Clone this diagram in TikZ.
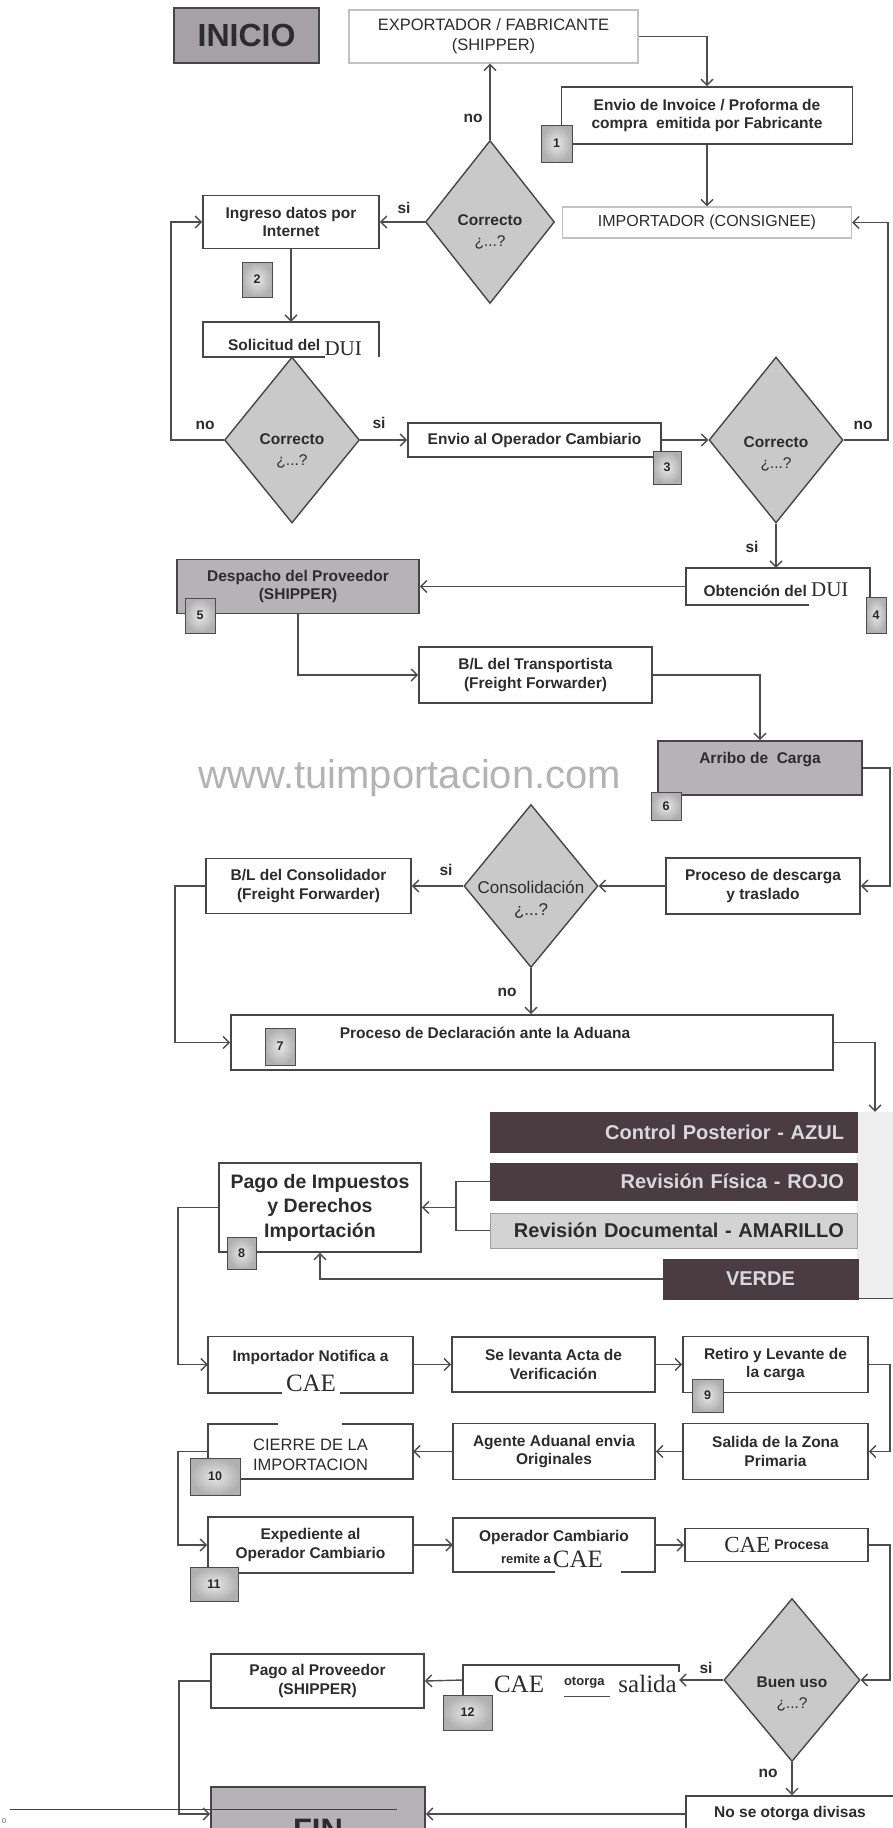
\documentclass[tikz,border=0pt]{standalone}
\usepackage{fontspec}
\setmainfont{Liberation Sans}
\newfontfamily\caef{Liberation Serif}
\usetikzlibrary{arrows.meta,shapes.geometric,calc}
\definecolor{lnc}{HTML}{4D4D4D}
\definecolor{bxc}{HTML}{464646}
\definecolor{txc}{HTML}{2C2C2C}
\definecolor{gboxc}{HTML}{B5B3B5}
\definecolor{inic}{HTML}{A5A1A5}
\definecolor{dmc}{HTML}{C9C9C9}
\definecolor{barc}{HTML}{4A3C41}
\definecolor{bartx}{HTML}{DAD8DA}
\definecolor{amac}{HTML}{D3D3D3}
\definecolor{wmc}{HTML}{B3B3B3}
\definecolor{lbc}{HTML}{C2C2C2}
\definecolor{semc}{HTML}{EEEEEE}
\tikzset{
  ln/.style={draw=lnc, line width=1.4pt},
  arr/.style={draw=lnc, line width=1.4pt, -{Straight Barb[length=6pt,width=12pt]}},
  sz/.style 2 args={minimum width=#1pt, minimum height=#2pt},
  fb/.style={font=\bfseries\fontsize{15.5}{18.5}\selectfont},
  bx/.style={draw=bxc, line width=1.6pt, fill=white, inner sep=1pt, align=center, text=txc, fb},
  gbx/.style={bx, fill=gboxc},
  lbx/.style={draw=lbc, line width=1.3pt, fill=white, inner sep=1pt, align=center, text=txc, font=\fontsize{16.5}{20}\selectfont},
  nb/.style={inner sep=0, fill=white},
  bd/.style={draw=bxc, line width=1.6pt},
  txt/.style={inner sep=0, align=center, text=txc, fb},
  dm/.style={diamond, draw=bxc, line width=1.4pt, fill=dmc, inner sep=0},
  dt/.style={inner sep=0, align=center, text=txc, font=\bfseries\fontsize{15.5}{21}\selectfont},
  lab/.style={inner sep=0, text=txc, font=\bfseries\fontsize{15.5}{15.5}\selectfont},
  badge/.style={draw=black!70, line width=1pt, inner color=gray!18, outer color=gray!62, inner sep=0, text=black!85, font=\bfseries\fontsize{12.5}{12.5}\selectfont},
  bar/.style={fill=barc, draw=barc, line width=0.8pt, inner ysep=0, inner xsep=13pt, text width=341pt, align=right, text=bartx, font=\bfseries\fontsize{20}{20}\selectfont},
  cae/.style={font=\caef\fontsize{25}{25}\selectfont},
}
\begin{document}
\begin{tikzpicture}[x=1pt,y=-1pt]
\useasboundingbox (0,0) rectangle (893,1828);
\clip (0,0) rectangle (893,1828);
\fill[white] (0,0) rectangle (893,1828);

% watermark
\node[font=\fontsize{40}{40}\selectfont, text=wmc, anchor=base, inner sep=0] (wm) at (410,788) {www.tuimportacion.com};

% ---------- top part
\node[gbx, fill=inic, sz={145}{55}, font=\bfseries\fontsize{32}{32}\selectfont] (inicio) at (246.5,35.5) {INICIO};
\node[lbx, sz={289}{53}] (exp) at (493.5,36.5) {EXPORTADOR / FABRICANTE\\(SHIPPER)};
\node[bx, sz={291}{57}] (env) at (707,115.5) {Envio de Invoice / Proforma de\\compra~ emitida por Fabricante};
\node[lbx, sz={289}{31}, font=\fontsize{16}{19}\selectfont] (imp) at (707,222.5) {IMPORTADOR (CONSIGNEE)};
\node[dm, sz={129}{163}] (d1) at (490,222) {};
\node[dt] (d1t) at (490,232) {Correcto\\{\mdseries ¿...?}};
\node[bx, sz={176}{53}] (ing) at (291,222) {Ingreso datos por\\Internet};
\node[nb, sz={176}{35}] (sol) at (291,339.5) {};
\draw[bd] (325,0 |- sol.south) -- (sol.south west) -- (sol.north west) -- (sol.north east) -- (sol.south east);
\node[txt, anchor=base] (solt) at (295,350) {Solicitud del \raisebox{-5pt}{\caef\mdseries\fontsize{21}{21}\selectfont DUI}};
\node[dm, sz={135}{166}] (d2) at (292,440) {};
\node[dt] (d2t) at (292,451) {Correcto\\{\mdseries ¿...?}};
\node[bx, sz={253}{34}] (op) at (534.5,440) {Envio al Operador Cambiario};
\node[dm, sz={134}{166}] (d3) at (776,440) {};
\node[dt] (d3t) at (776,454) {Correcto\\{\mdseries ¿...?}};
\node[nb, sz={184}{37}] (obt) at (778,586.5) {};
\draw[bd] (809,0 |- obt.south) -- (obt.south west) -- (obt.north west) -- (obt.north east) -- ++(0,29);
\node[txt, anchor=base] (obtt) at (776,596) {Obtención del {\caef\mdseries\fontsize{21}{21}\selectfont DUI}};
\node[gbx, sz={242}{54}] (desp) at (298,586.5) {Despacho del Proveedor\\(SHIPPER)};
\node[bx, sz={233}{56}] (bl1) at (535.5,675) {B/L del Transportista\\(Freight Forwarder)};
\node[gbx, sz={204}{54}] (arribo) at (760,768) {};
\node[txt] (arribot) at (760,760) {Arribo de~ Carga};
\node[bx, sz={194}{56}] (desc) at (763,886) {Proceso de descarga\\y traslado};
\node[dm, sz={134}{163}] (d4) at (531,886) {};
\node[dt, font=\fontsize{17}{22}\selectfont] (d4t) at (531,900) {Consolidación\\¿...?};
\node[bx, sz={205}{55}] (bl2) at (308.5,886) {B/L del Consolidador\\(Freight Forwarder)};
\node[bx, sz={602}{55}] (decl) at (532,1042.5) {};
\node[txt] (declt) at (485,1033) {Proceso de Declaración ante la Aduana};

% ---------- channels
\node[fill=semc, sz={36}{186}, inner sep=0] (semf) at (875,1205) {};
\draw[ln] (semf.south west) -- (semf.south east);
\node[bar, minimum height=40pt] (azul) at (673.5,1132) {Control Posterior - AZUL};
\node[bar, minimum height=37pt] (rojo) at (673.5,1181.5) {Revisión Física - ROJO};
\node[bar, fill=amac, draw=gray!75, text=txc, minimum height=35pt] (amar) at (673.5,1230.5) {Revisión Documental - AMARILLO};
\node[fill=barc, draw=barc, sz={195}{40}, inner sep=0, text=bartx, font=\bfseries\fontsize{20}{20}\selectfont] (verde) at (760.5,1279) {VERDE};
\node[bx, sz={202}{89}, font=\bfseries\fontsize{19.5}{24.5}\selectfont] (pago) at (320,1207.5) {Pago de Impuestos\\y Derechos\\Importación};
\coordinate (brk) at (456,1207.5);

% ---------- rows
\node[nb, sz={205}{56}] (notif) at (310.5,1364.5) {};
\draw[bd] (282,0 |- notif.south) -- (notif.south west) -- (notif.north west) -- (notif.north east) -- (notif.south east) -- (340,0 |- notif.south);
\node[txt] (notift) at (310.5,1357) {Importador Notifica a};
\node[cae, anchor=base, inner sep=0, text=txc] (notifc) at (311,1391) {CAE};
\node[bx, sz={203}{55}] (acta) at (553.5,1364.5) {Se levanta Acta de\\Verificación};
\node[bx, sz={185}{56}] (ret) at (775.5,1364.5) {Retiro y Levante de\\la carga};
\node[bx, sz={185}{56}] (sal) at (775.5,1451.5) {Salida de la Zona\\Primaria};
\node[bx, sz={202}{56}] (agen) at (554,1451.5) {Agente Aduanal envia\\Originales};
\node[nb, sz={205}{55}] (cierre) at (310.5,1451.5) {};
\draw[bd] (278,0 |- cierre.north) -- (cierre.north west) -- (cierre.south west) -- (cierre.south east) -- (cierre.north east) -- (342,0 |- cierre.north);
\node[txt, font=\fontsize{16.5}{20}\selectfont] (cierret) at (310.5,1455) {CIERRE DE LA\\IMPORTACION};
\node[bx, sz={205}{56}] (exped) at (310.5,1545) {Expediente al\\Operador Cambiario};
\node[nb, sz={202}{54}] (opcam) at (554,1545) {};
\draw[bd] (555,0 |- opcam.south) -- (opcam.south west) -- (opcam.north west) -- (opcam.north east) -- (opcam.south east) -- (621,0 |- opcam.south);
\node[txt] (opcamt) at (554,1537) {Operador Cambiario};
\node[txt, anchor=base] (opcamc) at (552,1567) {\raisebox{4pt}{\fontsize{13}{13}\selectfont remite a}\hspace{2pt}{\caef\mdseries\fontsize{25}{25}\selectfont CAE}};
\node[bx, sz={183}{33}] (caeproc) at (776.5,1545) {{\caef\mdseries\fontsize{23}{23}\selectfont CAE}\hspace{4pt}\raisebox{3pt}{\fontsize{14}{14}\selectfont Procesa}};

% ---------- bottom
\node[dm, sz={136}{163}] (d5) at (792,1680) {};
\node[dt] (d5t) at (792,1694) {Buen uso\\{\mdseries ¿...?}};
\node[inner sep=0, sz={216}{30}] (otg) at (571,1680) {};
\draw[bd] (otg.south west) -- (otg.north west) -- (otg.north east) -- ++(0,7);
\node[inner sep=0, anchor=base east, text=txc] (otgt) at (677,1692) {{\caef\fontsize{25}{25}\selectfont CAE}\hspace{20pt}\rlap{\color{lnc}\rule[-5pt]{46pt}{1.3pt}}\raisebox{7pt}{\bfseries\fontsize{13}{13}\selectfont otorga}\hspace{14pt}{\caef\fontsize{25}{25}\selectfont salida}};
\node[bx, sz={213}{54}] (ppago) at (317.5,1681) {Pago al Proveedor\\(SHIPPER)};
\node[gbx, sz={214}{54}] (fin) at (318,1814) {};
\node[inner sep=0, anchor=base, text=txc, font=\bfseries\fontsize{31}{31}\selectfont] (fint) at (318,1840) {FIN};
\node[bx, sz={208}{36}] (noseot) at (790,1814) {No se otorga divisas};

% ---------- connectors
\draw[arr] (exp.east) -| (env.north);
\draw[arr] (env.south) -- (imp.north);
\draw[arr] (d1.north) -- (d1.north |- exp.south);
\draw[arr] (d1.west) -- (ing.east);
\draw[arr] (ing.south) -- (sol.north);
\draw[arr] (d2.west) -- (171,0 |- d2.west) |- (ing.west);
\draw[arr] (d2.east) -- (op.west);
\draw[arr] (op.east) -- (d3.west);
\draw[arr] (d3.east) -- (888,0 |- d3.east) |- (imp.east);
\draw[arr] (d3.south) -- (d3.south |- obt.north);
\draw[arr] (obt.west) -- (desp.east);
\draw[arr] (desp.south) |- (bl1.west);
\draw[arr] (bl1.east) -| (arribo.north);
\draw[arr] (arribo.east) -- (890,0 |- arribo.east) |- (desc.east);
\draw[arr] (desc.west) -- (d4.east);
\draw[arr] (d4.west) -- (bl2.east);
\draw[arr] (d4.south) -- (d4.south |- decl.north);
\draw[arr] (bl2.west) -- (175,0 |- bl2.west) |- (decl.west);
\draw[arr] (decl.east) -| (semf.north);
\draw[ln] (rojo.west) -| (brk) |- (amar.west);
\draw[arr] (brk) -- (pago.east);
\draw[arr] (verde.west) -| (pago.south);
\draw[arr] (pago.west) -- (178,0 |- pago.west) |- (notif.west);
\draw[arr] (notif.east) -- (acta.west);
\draw[arr] (acta.east) -- (ret.west);
\draw[arr] (ret.east) -- (890,0 |- ret.east) |- (sal.east);
\draw[arr] (sal.west) -- (agen.east);
\draw[arr] (agen.west) -- (cierre.east);
\draw[arr] (cierre.west) -- (178,0 |- cierre.west) |- (exped.west);
\draw[arr] (exped.east) -- (opcam.west);
\draw[arr] (opcam.east) -- (caeproc.west);
\draw[arr] (caeproc.east) -- (890,0 |- caeproc.east) |- (d5.east);
\draw[arr] (d5.west) -- (otg.east);
\draw[arr] (otg.west) -- (ppago.east);
\draw[arr] (ppago.west) -- (179,0 |- ppago.west) |- (fin.west);
\draw[arr] (d5.south) -- (d5.south |- noseot.north);
\draw[arr] (noseot.west) -- (fin.east);

% ---------- labels
\node[lab] (no1) at (473,118) {no};
\node[lab] (si1) at (404,208) {si};
\node[lab] (no2) at (205,425) {no};
\node[lab] (si2) at (379,423) {si};
\node[lab] (no3) at (863,425) {no};
\node[lab] (si3) at (752,547) {si};
\node[lab] (si4) at (446,870) {si};
\node[lab] (no4) at (507,992) {no};
\node[lab] (si5) at (706,1668) {si};
\node[lab] (no5) at (768,1773) {no};

% ---------- badges
\node[badge, sz={31}{37}] (b1) at (556.5,143.5) {1};
\node[badge, sz={30}{35}] (b2) at (257,279.5) {2};
\node[badge, sz={28}{33}] (b3) at (667,467.5) {3};
\node[badge, sz={20}{36}] (b4) at (876,615) {4};
\node[badge, sz={30}{35}] (b5) at (200,615.5) {5};
\node[badge, sz={30}{28}] (b6) at (666,806) {6};
\node[badge, sz={30}{37}] (b7) at (280,1046.5) {7};
\node[badge, sz={29}{32}] (b8) at (241.5,1253) {8};
\node[badge, sz={31}{33}] (b9) at (707.5,1395.5) {9};
\node[badge, sz={50}{37}] (b10) at (215,1476.5) {10};
\node[badge, sz={48}{34}] (b11) at (214,1584) {11};
\node[badge, sz={49}{35}] (b12) at (467.5,1712.5) {12};

% ---------- footer
\draw[black!75, line width=1pt] (10,1809) -- (397,1809);
\node[inner sep=0, text=black!70, font=\fontsize{7}{7}\selectfont] (pg) at (4,1821) {0};
\end{tikzpicture}
\end{document}
